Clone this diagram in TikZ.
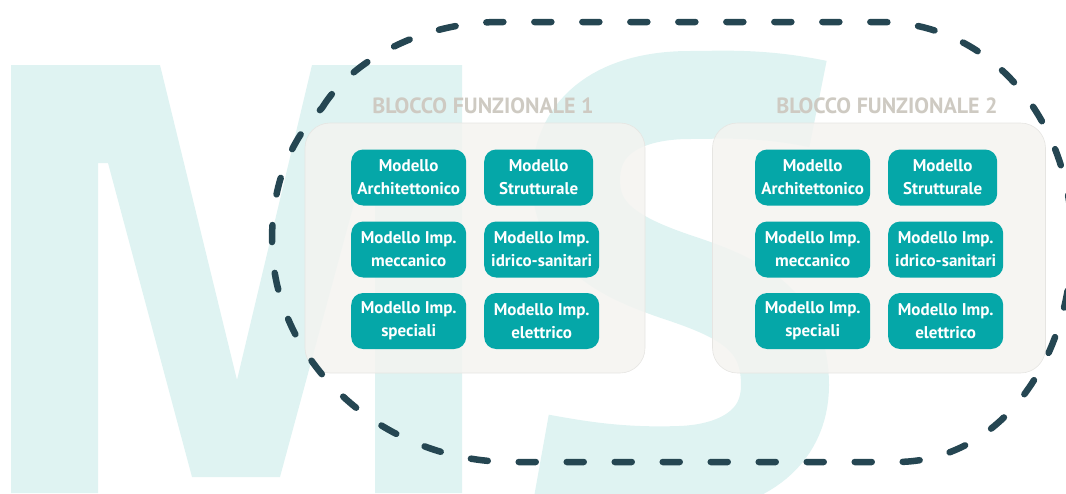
\documentclass[tikz,border=0pt]{standalone}
\usepackage{fontspec}
\setmainfont{PT Sans}
\usetikzlibrary{positioning}

\definecolor{msback}{RGB}{223,243,242}
\definecolor{modteal}{RGB}{5,167,168}
\definecolor{ringdark}{RGB}{37,70,82}
\definecolor{blockfill}{RGB}{244,243,240}
\definecolor{blockline}{RGB}{230,229,226}
\definecolor{titlegrey}{RGB}{206,202,194}

\begin{document}
\begin{tikzpicture}[x=1pt,y=-1pt,
    modello/.style={fill=modteal, text=white, rounded corners=12pt, align=center, anchor=west,
        minimum height=56pt, minimum width=115pt, inner xsep=6pt, font=\bfseries\fontsize{17}{23}\selectfont},
    blocco/.style={fill=blockfill, fill opacity=0.85, draw=blockline, line width=0.6pt,
        rounded corners=25pt, minimum height=250pt},
    titolo/.style={text=titlegrey, font=\bfseries\fontsize{22}{26}\selectfont}]
    \useasboundingbox (0,0) rectangle (1066,493);
    \clip (0,0) rectangle (1066,493);

    % lettere M e S sullo sfondo
    \fill[msback] (11,493) -- (11,65) -- (160,65) -- (237,380) -- (312,65) -- (462,65) -- (462,493)
        -- (375,493) -- (375,163) -- (365,163) -- (280,477) -- (192,477) -- (108,163) -- (98,163) -- (98,493) -- cycle;
    \draw[msback, line width=88pt] (818,104) .. controls (760,92) and (720,95) .. (690,95)
        .. controls (620,95) and (576,125) .. (576,180) .. controls (576,235) and (620,258) .. (680,278)
        .. controls (740,298) and (785,320) .. (785,385) .. controls (785,440) and (740,468) .. (680,470)
        .. controls (620,472) and (580,465) .. (541,458);

    \foreach \b/\dx/\w in {1/0/340, 2/404/333} {
        \node[blocco, minimum width=\w pt] (blocco\b) at (475+\dx,248) {};
        \node[titolo] (titolo\b) at (483+\dx,105.5) {BLOCCO FUNZIONALE \b};

        \node[modello] (arch\b) at (351+\dx,177.5) {Modello\\Architettonico};
        \node[modello, minimum width=109pt] (strut\b) at (484+\dx,177.5) {Modello\\Strutturale};
        \node[modello] (mecc\b) at (351+\dx,249.5) {Modello Imp.\\meccanico};
        \node[modello] (idro\b) at (484+\dx,249.5) {Modello Imp.\\idrico-sanitari};
        \node[modello] (spec\b) at (351+\dx,321) {Modello Imp.\\speciali};
        \node[modello] (elet\b) at (484+\dx,321) {Modello Imp.\\elettrico};
    }

    % contorno tratteggiato
    \draw[ringdark, line width=6.5pt, line cap=round, dash pattern=on 17pt off 31pt]
        (322,108) .. controls (350,62) and (420,22) .. (500,22) -- (880,22)
        .. controls (990,22) and (1072,120) .. (1072,240) .. controls (1072,360) and (1000,462) .. (896,462)
        -- (512,462) .. controls (380,462) and (272,360) .. (272,240) .. controls (272,185) and (290,140) .. (322,108);
\end{tikzpicture}
\end{document}
